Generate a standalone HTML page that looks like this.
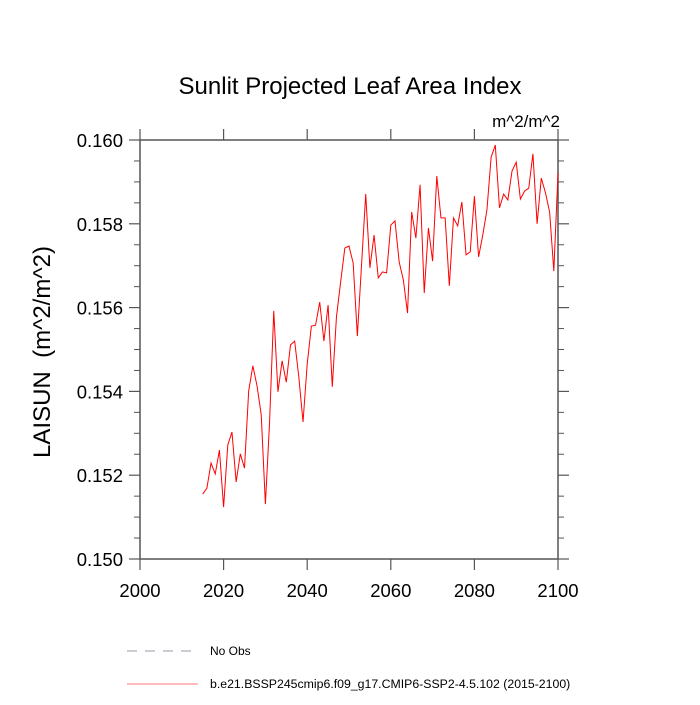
<!DOCTYPE html>
<html><head><meta charset="utf-8"><style>
body{margin:0;background:#fff}
svg text{font-family:"Liberation Sans",sans-serif;fill:#000}
</style></head><body>
<svg id="chart" width="700" height="700" viewBox="0 0 700 700" xmlns="http://www.w3.org/2000/svg">
<rect width="700" height="700" fill="#fff"/>
<text x="350" y="94" font-size="24" text-anchor="middle">Sunlit Projected Leaf Area Index</text>
<text x="560" y="127" font-size="17" text-anchor="end">m^2/m^2</text>
<text transform="translate(50,352) rotate(-90)" font-size="24" text-anchor="middle" xml:space="preserve">LAISUN  (m^2/m^2)</text>
<g id="axes"></g>
<g id="series"></g>
<g>
<line x1="127" y1="651" x2="198" y2="651" stroke="#99a" stroke-width="1" stroke-dasharray="10,8"/>
<text x="210" y="655" font-size="12">No Obs</text>
<line x1="127" y1="684" x2="198" y2="684" stroke="#f77" stroke-width="1"/>
<text x="210" y="688" font-size="12.3">b.e21.BSSP245cmip6.f09_g17.CMIP6-SSP2-4.5.102 (2015-2100)</text>
</g>
</svg>
<script>
const startYear = 2015;
const values = [0.15155,0.15169,0.15229,0.15203,0.15260,0.15124,0.15272,0.15303,0.15184,0.15251,
0.15217,0.15401,0.15461,0.15413,0.15344,0.15131,0.15327,0.15592,0.15399,0.15473,
0.15422,0.15511,0.15520,0.15434,0.15327,0.15465,0.15556,0.15558,0.15613,0.15520,
0.15606,0.15411,0.15578,0.15661,0.15742,0.15747,0.15706,0.15532,0.15702,0.15871,
0.15695,0.15773,0.15671,0.15685,0.15683,0.15797,0.15807,0.15709,0.15666,0.15587,
0.15828,0.15766,0.15893,0.15635,0.15790,0.15711,0.15914,0.15814,0.15814,0.15652,
0.15814,0.15795,0.15852,0.15726,0.15733,0.15866,0.15721,0.15773,0.15833,0.15959,
0.15988,0.15838,0.15871,0.15857,0.15926,0.15947,0.15859,0.15878,0.15885,0.15967,
0.15800,0.15909,0.15874,0.15828,0.15687,0.15921];
const xTicks = [2000,2020,2040,2060,2080,2100];
const yTicks = [0.150,0.152,0.154,0.156,0.158,0.160];
const yTickLabels = ["0.150","0.152","0.154","0.156","0.158","0.160"];

const L=140,R=558,T=140,B=559;
const xMin=2000,xMax=2100,yMin=0.150,yMax=0.160;
const xs=v=>L+(v-xMin)/(xMax-xMin)*(R-L);
const ys=v=>B-(v-yMin)/(yMax-yMin)*(B-T);
const NS="http://www.w3.org/2000/svg";
const axes=document.getElementById('axes');
function mk(tag,at,parent){const e=document.createElementNS(NS,tag);for(const k in at)e.setAttribute(k,at[k]);parent.appendChild(e);return e;}
const frame=mk('rect',{x:L,y:T,width:R-L,height:B-T,fill:'none',stroke:'#555','stroke-width':1.5},axes);


const tc='#555';
xTicks.forEach((t,i)=>{
  const x=xs(t);
  const a=mk('line',{x1:x,y1:B,x2:x,y2:B+11,stroke:tc,'stroke-width':1.2},axes);
  
  
  const b=mk('line',{x1:x,y1:T,x2:x,y2:T-11,stroke:tc,'stroke-width':1.2},axes);
  
  
  const tx=mk('text',{x:x,y:B+38,'font-size':18.5,'text-anchor':'middle'},axes);
  tx.textContent=t;
  
  
});
yTicks.forEach((t,i)=>{
  const y=ys(t);
  const a=mk('line',{x1:L-11,y1:y,x2:L,y2:y,stroke:tc,'stroke-width':1.2},axes);
  
  
  const b=mk('line',{x1:R,y1:y,x2:R+11,y2:y,stroke:tc,'stroke-width':1.2},axes);
  
  
  const tx=mk('text',{x:L-17,y:y+7,'font-size':18.5,'text-anchor':'end'},axes);
  tx.textContent=yTickLabels[i];
  
  
});
for(let k=1;k<20;k++){ if(k%4===0)continue;
  const y=ys(yMin+k*0.0005);
  const a=mk('line',{x1:L-6,y1:y,x2:L,y2:y,stroke:tc,'stroke-width':1},axes);
  
  
  const b=mk('line',{x1:R,y1:y,x2:R+6,y2:y,stroke:tc,'stroke-width':1},axes);
  
  
}
const pts=values.map((v,i)=>xs(startYear+i).toFixed(2)+','+ys(v).toFixed(2)).join(' ');
const line=mk('polyline',{points:pts,fill:'none',stroke:'#f00','stroke-width':1},document.getElementById('series'));


</script>
</body></html>
